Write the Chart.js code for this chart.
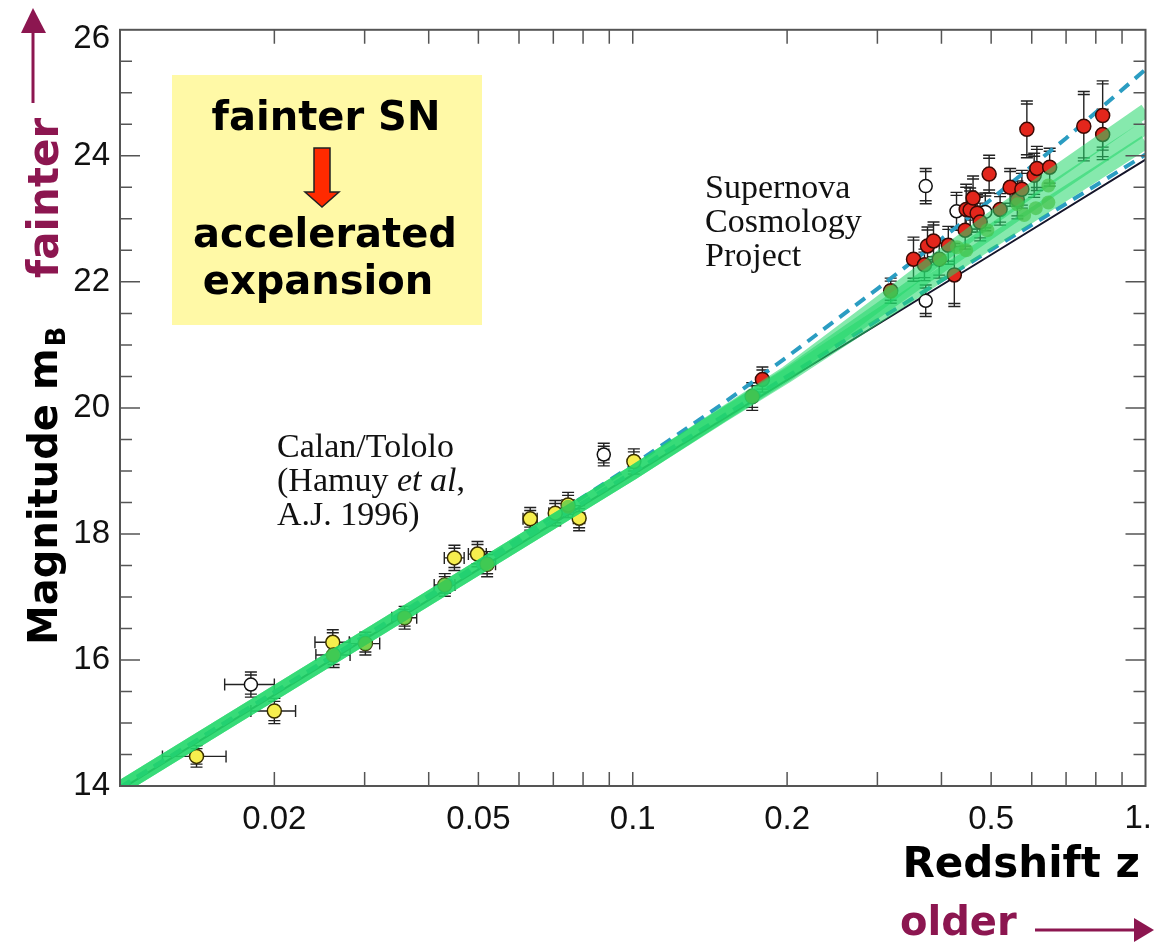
<!DOCTYPE html>
<html>
<head>
<meta charset="utf-8">
<script src="https://cdn.jsdelivr.net/npm/chart.js@4.4.0/dist/chart.umd.min.js"></script>
<style>
  html, body { margin: 0; padding: 0; background: #fff; }
  #wrap { width: 1154px; height: 942px; position: relative; }
</style>
</head>
<body>
<div id="wrap"><canvas id="hubble"></canvas></div>
<script>
// Calan/Tololo nearby supernovae (Hamuy et al 1996)
const calanZ   = [0.0141, 0.0200, 0.0260, 0.0261, 0.0301, 0.0359, 0.0430, 0.0449, 0.0498, 0.0520, 0.0631, 0.0706, 0.0748, 0.0786, 0.1005];
const calanM   = [14.47, 15.19, 16.28, 16.08, 16.26, 16.67, 17.19, 17.62, 17.68, 17.52, 18.24, 18.33, 18.46, 18.25, 19.15];
const calanErr = [0.17, 0.20, 0.20, 0.20, 0.18, 0.18, 0.18, 0.20, 0.20, 0.20, 0.18, 0.20, 0.20, 0.20, 0.20];
const calanZErr = 0.002;

// Supernova Cosmology Project high-redshift sample
const scpZ   = [0.171, 0.179, 0.3185, 0.3528, 0.3706, 0.3757, 0.386, 0.396, 0.4125, 0.4238, 0.445, 0.447, 0.455, 0.461, 0.4695, 0.476, 0.4955, 0.5205, 0.5445, 0.5625, 0.574, 0.587, 0.6066, 0.614, 0.6503, 0.758, 0.825, 0.825];
const scpM   = [20.18, 20.45, 21.86, 22.36, 22.27, 22.57, 22.65, 22.36, 22.58, 22.11, 22.82, 23.15, 23.14, 23.33, 23.09, 22.95, 23.71, 23.15, 23.50, 23.30, 23.47, 24.42, 23.69, 23.80, 23.82, 24.47, 24.64, 24.34];
const scpErr = [0.22, 0.20, 0.20, 0.35, 0.25, 0.30, 0.30, 0.30, 0.30, 0.50, 0.30, 0.40, 0.35, 0.35, 0.30, 0.30, 0.30, 0.25, 0.30, 0.30, 0.30, 0.45, 0.35, 0.35, 0.30, 0.55, 0.55, 0.40];

// excluded supernovae (open symbols)
const openZ   = [0.0180, 0.0878, 0.3727, 0.3727, 0.428, 0.487];
const openM   = [15.61, 19.26, 23.52, 21.70, 23.12, 23.11];
const openErr = [0.20, 0.18, 0.28, 0.25, 0.30, 0.30];
const openZErr = [0.002, 0.002, 0, 0, 0, 0];

// highlighted supernovae sitting on the fit band
const markZ = [0.026, 0.0301, 0.0359, 0.043, 0.052, 0.0748, 0.171, 0.3185, 0.398, 0.429, 0.447, 0.4915, 0.5625, 0.58, 0.611, 0.6465, 0.6465];
const markM = [16.08, 16.26, 16.67, 17.19, 17.52, 18.43, 20.18, 21.84, 22.36, 22.55, 22.50, 22.82, 23.23, 23.06, 23.17, 23.53, 23.26];

// model curves
const fitZ    = [0.01, 0.1, 0.15, 0.2, 0.3, 0.4, 0.5, 0.65, 0.8, 1.0];
const fitHigh = [13.97, 18.97, 19.90, 20.56, 21.64, 22.41, 23.00, 23.66, 24.17, 24.72];
const fitMid  = [13.97, 18.97, 19.89, 20.53, 21.54, 22.26, 22.80, 23.44, 23.93, 24.45];
const fitLow  = [13.97, 18.97, 19.88, 20.51, 21.45, 22.12, 22.64, 23.24, 23.71, 24.22];
const upperZ  = [0.01, 0.03, 0.05, 0.1, 0.15, 0.2, 0.3, 0.4, 0.5, 0.7, 1.0];
const upperM  = [13.97, 16.38, 17.52, 19.09, 20.07, 20.81, 21.89, 22.68, 23.31, 24.28, 25.37];
const lowerZ  = [0.01, 0.1, 0.3, 0.5, 0.7, 1.0];
const lowerM  = [13.98, 18.98, 21.39, 22.51, 23.24, 24.02];
const flatZ   = [0.01, 0.1, 0.5, 1.0];
const flatM   = [13.94, 18.94, 22.43, 23.94];

const xLabels = [0.02, 0.05, 0.1, 0.2, 0.5, 1];

const pts = (zs, ms) => zs.map((z, i) => ({ x: z, y: ms[i] }));
const maroon = '#8C1650';
const comic = '"DejaVu Sans", sans-serif';
const tickFont = '33px "Liberation Sans", Arial, sans-serif';

const errorBars = {
  id: 'errorBars',
  beforeDatasetsDraw(chart) {
    const { ctx, scales: { x, y } } = chart;
    ctx.save();
    ctx.strokeStyle = '#222';
    ctx.lineWidth = 1.4;
    chart.data.datasets.forEach(ds => {
      if (!ds.yErr) return;
      ds.data.forEach((p, i) => {
        const px = x.getPixelForValue(p.x);
        const py = y.getPixelForValue(p.y);
        const t = y.getPixelForValue(p.y + ds.yErr[i]);
        const b = y.getPixelForValue(p.y - ds.yErr[i]);
        ctx.beginPath();
        ctx.moveTo(px, t); ctx.lineTo(px, b);
        [t, t + 3, b, b - 3].forEach(cy => { ctx.moveTo(px - 6, cy); ctx.lineTo(px + 6, cy); });
        const dz = Array.isArray(ds.xErr) ? ds.xErr[i] : ds.xErr;
        if (dz) {
          const l = x.getPixelForValue(p.x - dz);
          const r = x.getPixelForValue(p.x + dz);
          ctx.moveTo(l, py); ctx.lineTo(r, py);
          ctx.moveTo(l, py - 6); ctx.lineTo(l, py + 6);
          ctx.moveTo(r, py - 6); ctx.lineTo(r, py + 6);
        }
        ctx.stroke();
      });
    });
    ctx.restore();
  }
};

// frame with inward ticks on all four sides
const frame = {
  id: 'frame',
  afterDatasetsDraw(chart) {
    const { ctx, chartArea: a, scales: { x, y } } = chart;
    ctx.save();
    ctx.strokeStyle = '#555';
    ctx.lineWidth = 2;
    ctx.strokeRect(a.left, a.top, a.right - a.left, a.bottom - a.top);
    ctx.lineWidth = 1.5;
    ctx.beginPath();
    for (let m = 14.5; m < 26; m += 0.5) {
      const py = y.getPixelForValue(m);
      const len = (m % 2 === 0) ? 20 : 12;
      ctx.moveTo(a.left, py); ctx.lineTo(a.left + len, py);
      ctx.moveTo(a.right, py); ctx.lineTo(a.right - len, py);
    }
    const zt = [];
    for (let k = 2; k <= 9; k++) zt.push(k / 100);
    for (let k = 1; k <= 9; k++) zt.push(k / 10);
    zt.forEach(z => {
      const px = x.getPixelForValue(z);
      ctx.moveTo(px, a.bottom); ctx.lineTo(px, a.bottom - 14);
      ctx.moveTo(px, a.top); ctx.lineTo(px, a.top + 14);
    });
    ctx.stroke();

    // end labels kept inside the canvas
    ctx.fillStyle = '#111';
    ctx.font = tickFont;
    ctx.textBaseline = 'middle';
    ctx.textAlign = 'right';
    ctx.fillText('26', a.left - 10, y.getPixelForValue(26) + 9);
    ctx.fillText('1.', 1152, a.bottom + 33);
    ctx.restore();
  }
};

const notes = {
  id: 'notes',
  afterDraw(chart) {
    const ctx = chart.ctx;
    ctx.save();

    // box in the upper left
    ctx.fillStyle = '#FFF9A6';
    ctx.fillRect(172, 75, 310, 250);
    ctx.fillStyle = '#000';
    ctx.textAlign = 'center';
    ctx.textBaseline = 'alphabetic';
    ctx.font = 'bold 40px ' + comic;
    ctx.fillText('fainter SN', 326, 130);
    ctx.fillText('accelerated', 325, 247);
    ctx.fillText('expansion', 318, 294);
    ctx.beginPath();
    ctx.moveTo(314, 148); ctx.lineTo(330, 148); ctx.lineTo(330, 192); ctx.lineTo(339, 192);
    ctx.lineTo(322, 207); ctx.lineTo(305, 192); ctx.lineTo(314, 192); ctx.closePath();
    ctx.fillStyle = '#FF2A00';
    ctx.fill();
    ctx.strokeStyle = '#222';
    ctx.lineWidth = 1.5;
    ctx.stroke();

    // sample labels
    ctx.fillStyle = '#111';
    ctx.textAlign = 'left';
    ctx.font = '34px "Liberation Serif", serif';
    ctx.fillText('Supernova', 705, 198);
    ctx.fillText('Cosmology', 705, 232);
    ctx.fillText('Project', 705, 266);
    ctx.fillText('Calan/Tololo', 277, 457);
    ctx.fillText('(Hamuy ', 277, 491);
    let w = ctx.measureText('(Hamuy ').width;
    ctx.font = 'italic 34px "Liberation Serif", serif';
    ctx.fillText('et al', 277 + w, 491);
    w += ctx.measureText('et al').width;
    ctx.font = '34px "Liberation Serif", serif';
    ctx.fillText(',', 277 + w, 491);
    ctx.fillText('A.J. 1996)', 277, 525);

    // y axis title
    ctx.save();
    ctx.translate(57, 645);
    ctx.rotate(-Math.PI / 2);
    ctx.fillStyle = '#000';
    ctx.font = 'bold 40px ' + comic;
    ctx.fillText('Magnitude m', 0, 0);
    const mw = ctx.measureText('Magnitude m').width;
    ctx.font = 'bold 26px ' + comic;
    ctx.fillText('B', mw + 2, 8);
    ctx.restore();

    // "fainter" with upward arrow
    ctx.save();
    ctx.translate(58, 278);
    ctx.rotate(-Math.PI / 2);
    ctx.fillStyle = maroon;
    ctx.font = 'bold 42px ' + comic;
    ctx.fillText('fainter', 0, 0);
    ctx.restore();
    ctx.strokeStyle = maroon;
    ctx.fillStyle = maroon;
    ctx.lineWidth = 3;
    ctx.beginPath();
    ctx.moveTo(33, 103); ctx.lineTo(33, 28);
    ctx.stroke();
    ctx.beginPath();
    ctx.moveTo(21, 33); ctx.lineTo(33, 8); ctx.lineTo(46, 33); ctx.closePath();
    ctx.fill();

    // x axis title and "older" arrow
    ctx.fillStyle = '#000';
    ctx.textAlign = 'right';
    ctx.font = 'bold 42px ' + comic;
    ctx.fillText('Redshift z', 1140, 877);
    ctx.textAlign = 'left';
    ctx.fillStyle = maroon;
    ctx.font = 'bold 40px ' + comic;
    ctx.fillText('older', 900, 935);
    ctx.beginPath();
    ctx.moveTo(1035, 930); ctx.lineTo(1140, 930);
    ctx.stroke();
    ctx.beginPath();
    ctx.moveTo(1134, 918); ctx.lineTo(1154, 930); ctx.lineTo(1134, 942); ctx.closePath();
    ctx.fill();

    ctx.restore();
  }
};

const curve = (zs, ms, extra) => Object.assign({
  type: 'line', data: pts(zs, ms), showLine: true, pointRadius: 0, fill: false, tension: 0
}, extra);

const greenBand = { borderColor: 'rgba(35, 215, 105, 0.55)', borderWidth: 14, order: 1 };
const dashed = { borderColor: '#2B9DC2', borderWidth: 4, borderDash: [12, 8], order: 3 };

new Chart(document.getElementById('hubble'), {
  type: 'scatter',
  data: {
    datasets: [
      { data: pts(markZ, markM), pointRadius: 7, pointBackgroundColor: 'rgba(70, 195, 75, 0.7)',
        pointBorderWidth: 0, order: 0 },
      curve(fitZ, fitHigh, greenBand),
      curve(fitZ, fitMid, greenBand),
      curve(fitZ, fitLow, greenBand),
      { data: pts(calanZ, calanM), yErr: calanErr, xErr: calanZErr, pointRadius: 7,
        pointBackgroundColor: '#F6EE4E', pointBorderColor: '#3a3000', pointBorderWidth: 1.5, order: 2 },
      { data: pts(scpZ, scpM), yErr: scpErr, pointRadius: 7,
        pointBackgroundColor: '#E3261C', pointBorderColor: '#3a0a05', pointBorderWidth: 1.5, order: 2 },
      { data: pts(openZ, openM), yErr: openErr, xErr: openZErr, pointRadius: 6.5,
        pointBackgroundColor: '#fff', pointBorderColor: '#111', pointBorderWidth: 1.5, order: 2 },
      curve(upperZ, upperM, dashed),
      curve(lowerZ, lowerM, dashed),
      curve(flatZ, flatM, { borderColor: '#15152a', borderWidth: 2, order: 4 })
    ]
  },
  options: {
    responsive: true,
    maintainAspectRatio: false,
    animation: false,
    layout: { padding: { top: 27, right: 6, left: 0, bottom: 0 } },
    plugins: { legend: { display: false }, tooltip: { enabled: false } },
    scales: {
      x: {
        type: 'logarithmic', min: 0.01, max: 1.0,
        grid: { display: false, drawTicks: false }, border: { display: false },
        afterBuildTicks: axis => { axis.ticks = xLabels.map(v => ({ value: v })); },
        afterFit: axis => { axis.height = 156; axis.paddingLeft = 0; axis.paddingRight = 0; },
        ticks: {
          padding: 14, color: '#111', maxRotation: 0, autoSkip: false,
          font: { family: '"Liberation Sans", Arial, sans-serif', size: 33 },
          callback: v => (v === 1 ? '' : String(v))
        }
      },
      y: {
        type: 'linear', min: 14, max: 26,
        grid: { display: false, drawTicks: false }, border: { display: false },
        afterFit: axis => { axis.width = 120; },
        ticks: {
          stepSize: 2, padding: 10, color: '#111',
          font: { family: '"Liberation Sans", Arial, sans-serif', size: 33 },
          callback: v => (v === 26 ? '' : String(v))
        }
      }
    }
  },
  plugins: [errorBars, frame, notes]
});
</script>
</body>
</html>
